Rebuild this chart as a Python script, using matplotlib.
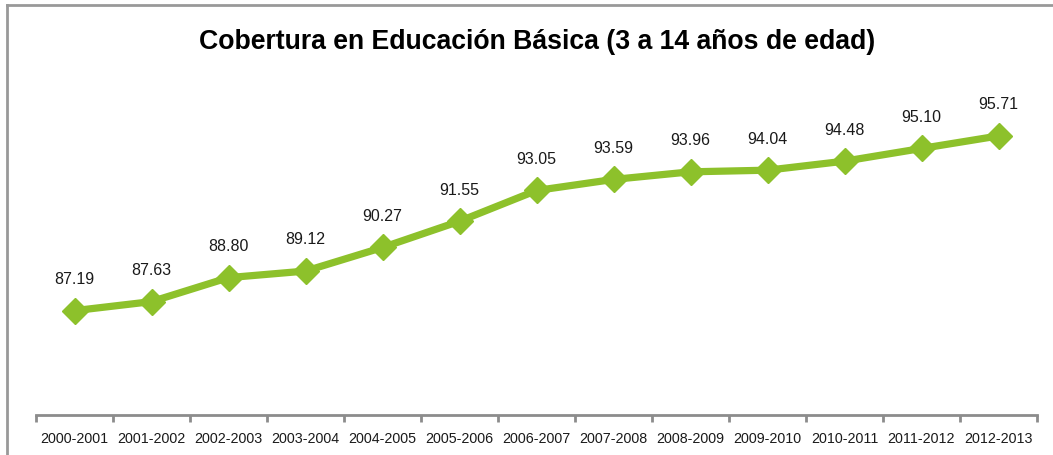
import matplotlib.pyplot as plt
from matplotlib.lines import Line2D

ciclos = ["2000-2001", "2001-2002", "2002-2003", "2003-2004", "2004-2005",
          "2005-2006", "2006-2007", "2007-2008", "2008-2009", "2009-2010",
          "2010-2011", "2011-2012", "2012-2013"]
cobertura = [87.19, 87.63, 88.80, 89.12, 90.27, 91.55, 93.05, 93.59,
             93.96, 94.04, 94.48, 95.10, 95.71]

plt.rcParams['font.family'] = ['Liberation Sans', 'DejaVu Sans']

fig = plt.figure(figsize=(10.53, 4.55), dpi=100)
ax = fig.add_axes([36 / 1053, 1 - 415 / 455, 1001 / 1053, 305.5 / 455])

x = list(range(len(ciclos)))
ax.plot(x, cobertura, color='#8DC12B', linewidth=5.2, marker='D',
        markersize=13, solid_joinstyle='miter')

for xi, v in zip(x, cobertura):
    ax.annotate(f"{v:.2f}", (xi, v), xytext=(0, 17), textcoords='offset points',
                ha='center', va='bottom', fontsize=11.5, color='#1a1a1a')

ax.set_xlim(-0.5, len(ciclos) - 0.5)
ax.set_ylim(82.1, 97.0)
ax.set_xticks(x)
ax.set_xticklabels(ciclos, fontsize=10.3, color='#1a1a1a')
ax.tick_params(axis='x', which='major', length=0, pad=12)
ax.set_xticks([i - 0.5 for i in range(len(ciclos) + 1)], minor=True)
ax.tick_params(axis='x', which='minor', length=5, width=2, color='#8c8c8c', direction='out')
ax.set_yticks([])
for s in ['top', 'right', 'left']:
    ax.spines[s].set_visible(False)
ax.spines['bottom'].set_color('#8c8c8c')
ax.spines['bottom'].set_linewidth(2)

fig.text(537 / 1053, 1 - 42 / 455, "Cobertura en Educación Básica (3 a 14 años de edad)",
         ha='center', va='center', fontsize=19.2, fontweight='bold', color='black')

# marco del grafico
fig.add_artist(Line2D([7 / 1053, 1], [1 - 5 / 455, 1 - 5 / 455], color='#999999', linewidth=2))
fig.add_artist(Line2D([7 / 1053, 7 / 1053], [0, 1 - 5 / 455], color='#999999', linewidth=2))

fig.savefig("out.png", dpi=100)
